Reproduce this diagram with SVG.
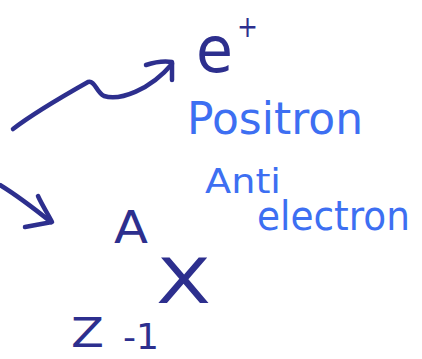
<svg xmlns="http://www.w3.org/2000/svg" width="422" height="359" viewBox="0 0 422 359">
<style>
.ink{fill:none;stroke:#2d2f8e;stroke-width:4.5;stroke-linecap:round;stroke-linejoin:round}
.dk{fill:#2d2f8e;font-family:"DejaVu Sans","Liberation Sans",sans-serif}
.bl{fill:#3d6ff2;font-family:"DejaVu Sans","Liberation Sans",sans-serif}
</style>
<rect width="422" height="359" fill="#ffffff"/>
<g id="connectors">
<path class="ink" d="M13,129 C35,112 65,95 88,82 C95,80 96,92 104,96 C120,101 150,90 172,64"/>
<path class="ink" d="M146,65 C155,62 165,61 172,62 L172,80"/>
<path class="ink" d="M0,185 C18,196 36,210 51,222"/>
<path class="ink" d="M38,196 C42,205 48,214 52,222 L25,227"/>
</g>
<g id="positron">
<text class="dk" x="196" y="72" font-size="64" textLength="37" lengthAdjust="spacingAndGlyphs">e</text>
<text class="dk" x="237" y="37" font-size="30" textLength="21" lengthAdjust="spacingAndGlyphs">+</text>
</g>
<g id="label">
<text class="bl" x="187" y="134" font-size="44" textLength="176" lengthAdjust="spacingAndGlyphs">Positron</text>
<text class="bl" x="205" y="193" font-size="34" textLength="76" lengthAdjust="spacingAndGlyphs">Anti</text>
<text class="bl" x="257" y="230" font-size="40" textLength="153" lengthAdjust="spacingAndGlyphs">electron</text>
</g>
<g id="nucleus">
<text class="dk" x="114" y="243" font-size="44" textLength="34" lengthAdjust="spacingAndGlyphs">A</text>
<text class="dk" x="156" y="303" font-size="62" textLength="55" lengthAdjust="spacingAndGlyphs">X</text>
<text class="dk" x="71" y="347" font-size="40" textLength="33" lengthAdjust="spacingAndGlyphs">Z</text>
<text class="dk" x="123" y="349" font-size="36" textLength="36" lengthAdjust="spacingAndGlyphs">-1</text>
</g>
</svg>
